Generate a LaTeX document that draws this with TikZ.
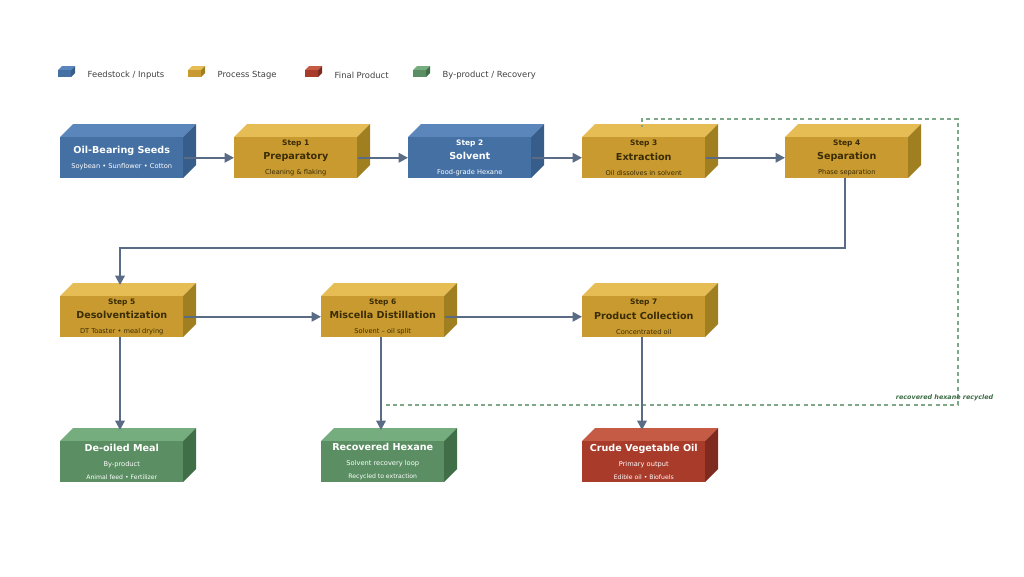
\documentclass[tikz,border=0pt]{standalone}
\usepackage{fontspec}
\setmainfont{DejaVu Sans}
\usetikzlibrary{arrows.meta}
\definecolor{bF}{HTML}{4470A3}\definecolor{bT}{HTML}{5B86BB}\definecolor{bS}{HTML}{375D8A}
\definecolor{gF}{HTML}{C99A30}\definecolor{gT}{HTML}{E6BD55}\definecolor{gS}{HTML}{A07F20}
\definecolor{nF}{HTML}{5B8F63}\definecolor{nT}{HTML}{76AD7E}\definecolor{nS}{HTML}{3F6E47}
\definecolor{rF}{HTML}{A83B2A}\definecolor{rT}{HTML}{C55A45}\definecolor{rS}{HTML}{7E2A1F}
\definecolor{arrc}{HTML}{5A6B85}\definecolor{dash}{HTML}{7FA88A}\definecolor{gtxt}{HTML}{3A2C05}
\definecolor{lbl}{HTML}{3A6B45}
\newcommand\mybox[6]{%
 \fill[#4T] (#2,#3) -- ++(13,-13) -- ++(123,0) -- ++(-13,13) -- cycle;
 \fill[#4S] (#2+123,#3) -- ++(13,-13) -- ++(0,41) -- ++(-13,13) -- cycle;
 \node[fill=#4F, minimum width=92.25pt, minimum height=30.75pt, anchor=north west, inner sep=0pt, align=center, text=#5] (#1) at (#2,#3) {#6};
}
\newcommand\lcube[3]{%
 \fill[#1T] (#2,#3) -- ++(4,-4) -- ++(13,0) -- ++(-4,4) -- cycle;
 \fill[#1S] (#2+13,#3) -- ++(4,-4) -- ++(0,7) -- ++(-4,4) -- cycle;
 \fill[#1F] (#2,#3) rectangle ++(13,7);
}
\tikzset{arr/.style={draw=arrc, line width=1.6pt, -{Triangle[length=7pt,width=7pt]}},
 dsh/.style={draw=dash, line width=0.9pt, dash pattern=on 3pt off 2.5pt},
 st/.style={font=\bfseries\fontsize{5.6}{6}\selectfont},
 ti/.style={font=\bfseries\fontsize{7.2}{8}\selectfont},
 leg/.style={font=\fontsize{6.3}{7}\selectfont, text=black!75, anchor=west}}
\newcommand\sst[1]{{\bfseries\fontsize{5.6}{6.5}\selectfont #1}\\[-1pt]}
\newcommand\stt[1]{{\bfseries\fontsize{7.2}{8}\selectfont #1}\\[-1pt]}
\newcommand\ssb[1]{{\fontsize{5}{6}\selectfont #1}}
\begin{document}
\begin{tikzpicture}[x=0.75pt,y=-0.75pt]
\useasboundingbox (0,0) rectangle (1024,576);
% legend
\lcube{b}{58}{70}\node[leg] (l1) at (83,75) {Feedstock / Inputs};
\lcube{g}{188}{70}\node[leg] (l2) at (213,75) {Process Stage};
\lcube{r}{305}{70}\node[leg] (l3) at (330,75) {Final Product};
\lcube{n}{413}{70}\node[leg] (l4) at (438,75) {By-product / Recovery};
% row 1
\mybox{seeds}{60}{137}{b}{white}{\stt{Oil-Bearing Seeds}\ssb{Soybean • Sunflower • Cotton}}
\mybox{s1}{234}{137}{g}{gtxt}{\sst{Step 1}\stt{Preparatory}\ssb{Cleaning \& flaking}}
\mybox{s2}{408}{137}{b}{white}{\sst{Step 2}\stt{Solvent}\ssb{Food-grade Hexane}}
\mybox{s3}{582}{137}{g}{gtxt}{\sst{Step 3}\stt{Extraction}\ssb{Oil dissolves in solvent}}
\mybox{s4}{785}{137}{g}{gtxt}{\sst{Step 4}\stt{Separation}\ssb{Phase separation}}
% row 2
\mybox{s5}{60}{296}{g}{gtxt}{\sst{Step 5}\stt{Desolventization}\ssb{DT Toaster • meal drying}}
\mybox{s6}{321}{296}{g}{gtxt}{\sst{Step 6}\stt{Miscella Distillation}\ssb{Solvent – oil split}}
\mybox{s7}{582}{296}{g}{gtxt}{\sst{Step 7}\stt{Product Collection}\ssb{Concentrated oil}}
% row 3
\mybox{meal}{60}{441}{n}{white}{\stt{De-oiled Meal}\ssb{By-product}\\[-2pt]{\fontsize{4.6}{5}\selectfont Animal feed • Fertilizer}}
\mybox{hex}{321}{441}{n}{white}{\stt{Recovered Hexane}\ssb{Solvent recovery loop}\\[-2pt]{\fontsize{4.6}{5}\selectfont Recycled to extraction}}
\mybox{oil}{582}{441}{r}{white}{\stt{Crude Vegetable Oil}\ssb{Primary output}\\[-2pt]{\fontsize{4.6}{5}\selectfont Edible oil • Biofuels}}
% recycle dashed
\coordinate (h0) at (381,437);
\coordinate (e0) at (642,127);
\coordinate (q1) at (958,405);
\coordinate (q2) at (958,119);
\draw[dsh] (h0) -- (h0 |- q1) -- (q1) -- (q2) -- (q2 -| e0) -- (e0);
\node[font=\bfseries\itshape\fontsize{4.8}{5}\selectfont, text=lbl, anchor=east] (rl) at (998,398) {recovered hexane recycled};
% arrows
\draw[arr] (seeds.east) -- (s1.west);
\draw[arr] (s1.east) -- (s2.west);
\draw[arr] (s2.east) -- (s3.west);
\draw[arr] (s3.east) -- (s4.west);
\coordinate (mid) at (0,248);
\coordinate (t5) at (120,285);
\draw[arr] (845,178) -- (845,248) -| (t5);
\draw[arr] (s5.east) -- (s6.west);
\draw[arr] (s6.east) -- (s7.west);
\coordinate (r3) at (0,430);
\draw[arr] (120,337) -- (120,430);
\draw[arr] (381,337) -- (381,430);
\draw[arr] (642,337) -- (642,430);
\end{tikzpicture}
\end{document}
